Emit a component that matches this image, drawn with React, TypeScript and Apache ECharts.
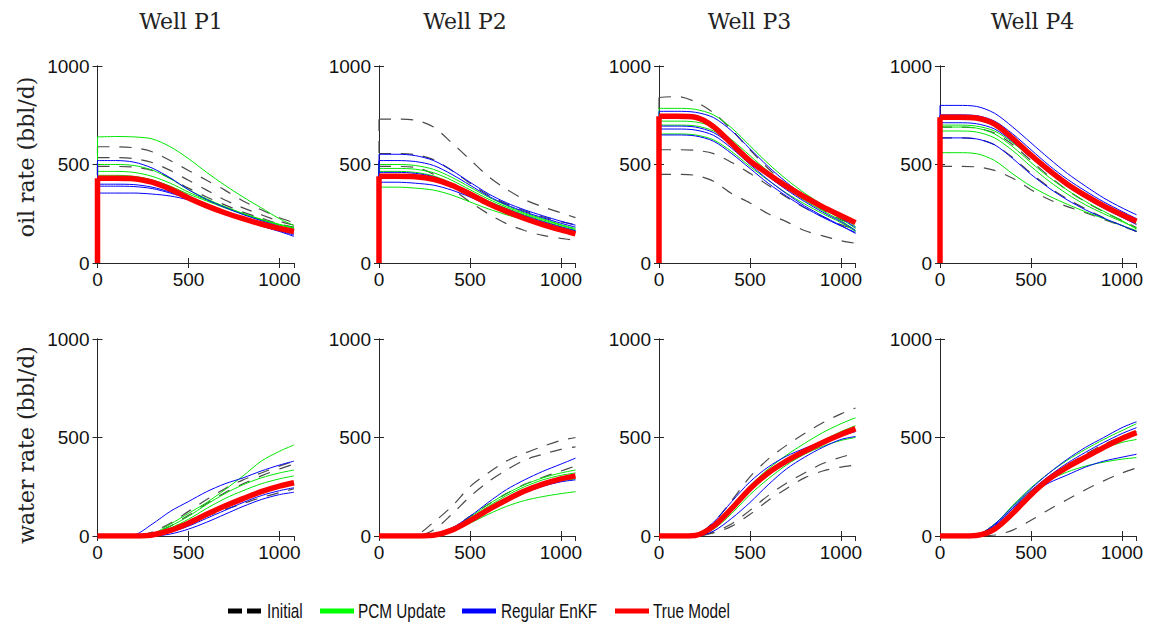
import React, { useEffect, useRef } from "react";
import * as echarts from "echarts";

// ---------- data ----------
const TIME = [0, 100, 200, 300, 400, 500, 600, 700, 800, 900, 1000, 1080];
const WELLS = ["Well P1", "Well P2", "Well P3", "Well P4"];
const ROW_LABELS = ["oil rate (bbl/d)", "water rate (bbl/d)"];
const X_TICKS = [0, 500, 1000];
const Y_TICKS = [0, 500, 1000];
const LEGEND_NAMES = ["Initial", "PCM Update", "Regular EnKF", "True Model"];

// Oil rates (production starts from zero at t = 0)
const P1_OIL_INITIAL = [
  [590, 590, 585, 565, 520, 470, 420, 370, 315, 270, 230, 205],
  [535, 535, 530, 510, 470, 420, 370, 320, 280, 245, 212, 192],
  [490, 490, 487, 470, 430, 380, 335, 295, 258, 228, 198, 182],
];
const P1_OIL_PCM = [
  [640, 642, 640, 630, 590, 530, 460, 395, 335, 280, 225, 190],
  [500, 500, 495, 472, 428, 372, 326, 286, 252, 222, 196, 180],
  [465, 465, 460, 440, 405, 360, 320, 285, 250, 220, 195, 178],
  [445, 445, 440, 422, 390, 350, 315, 280, 248, 218, 192, 175],
];
const P1_OIL_ENKF = [
  [520, 520, 512, 482, 432, 372, 322, 282, 246, 215, 186, 165],
  [400, 400, 398, 385, 360, 330, 292, 256, 225, 196, 170, 150],
  [390, 390, 388, 378, 355, 325, 288, 252, 220, 190, 163, 142],
  [355, 355, 355, 350, 340, 320, 285, 250, 218, 188, 160, 135],
];
const P1_OIL_TRUE = [430, 430, 428, 410, 375, 330, 290, 255, 225, 198, 175, 160];

const P2_OIL_INITIAL = [
  [730, 730, 725, 690, 610, 525, 440, 375, 322, 285, 255, 230],
  [555, 555, 550, 525, 470, 405, 345, 300, 265, 235, 210, 195],
  [490, 490, 485, 450, 380, 310, 250, 200, 165, 140, 125, 115],
];
const P2_OIL_PCM = [
  [500, 500, 495, 475, 435, 385, 335, 292, 255, 225, 195, 175],
  [480, 480, 476, 458, 420, 372, 325, 285, 250, 220, 192, 170],
  [465, 465, 460, 442, 405, 360, 315, 278, 244, 214, 186, 165],
  [385, 385, 380, 370, 345, 310, 275, 245, 220, 195, 175, 160],
];
const P2_OIL_ENKF = [
  [552, 552, 545, 520, 470, 410, 352, 306, 270, 240, 212, 192],
  [520, 520, 515, 495, 450, 395, 340, 296, 260, 230, 202, 182],
  [460, 460, 455, 438, 402, 358, 312, 275, 240, 210, 183, 164],
  [410, 410, 405, 395, 370, 335, 295, 260, 228, 200, 175, 160],
];
const P2_OIL_TRUE = [440, 440, 438, 425, 395, 350, 302, 262, 226, 195, 168, 148];

const P3_OIL_INITIAL = [
  [840, 845, 818, 762, 675, 575, 480, 400, 330, 270, 220, 195],
  [575, 575, 572, 555, 510, 455, 395, 335, 280, 235, 195, 170],
  [450, 450, 445, 415, 352, 305, 250, 210, 165, 138, 113, 100],
];
const P3_OIL_PCM = [
  [785, 785, 780, 752, 685, 595, 505, 425, 355, 295, 240, 185],
  [720, 720, 716, 690, 625, 545, 465, 395, 330, 275, 225, 175],
  [700, 700, 696, 670, 605, 525, 450, 380, 318, 265, 215, 165],
  [655, 655, 650, 625, 565, 490, 420, 355, 300, 250, 205, 160],
];
const P3_OIL_ENKF = [
  [770, 770, 765, 738, 670, 580, 490, 410, 340, 280, 228, 180],
  [695, 695, 690, 662, 598, 518, 440, 372, 312, 258, 210, 165],
  [680, 680, 675, 648, 582, 500, 422, 352, 290, 238, 190, 150],
  [650, 650, 645, 618, 555, 480, 405, 340, 282, 232, 188, 155],
];
const P3_OIL_TRUE = [745, 745, 740, 692, 605, 518, 452, 390, 335, 285, 240, 205];

const P4_OIL_INITIAL = [
  [690, 690, 685, 660, 600, 520, 440, 370, 310, 260, 215, 180],
  [635, 635, 630, 600, 535, 455, 385, 325, 275, 230, 190, 160],
  [490, 490, 488, 470, 430, 372, 322, 286, 255, 222, 188, 160],
];
const P4_OIL_PCM = [
  [700, 700, 695, 670, 610, 535, 460, 395, 335, 285, 240, 200],
  [690, 690, 685, 655, 590, 510, 435, 370, 312, 262, 215, 172],
  [670, 670, 665, 635, 570, 490, 415, 350, 295, 250, 210, 178],
  [560, 560, 555, 520, 452, 390, 340, 298, 260, 225, 190, 165],
];
const P4_OIL_ENKF = [
  [800, 800, 795, 760, 690, 610, 530, 455, 390, 330, 280, 245],
  [752, 752, 748, 720, 655, 575, 495, 425, 365, 310, 262, 225],
  [712, 712, 707, 680, 615, 535, 458, 390, 330, 278, 232, 195],
  [635, 635, 630, 600, 530, 450, 380, 320, 270, 228, 190, 160],
];
const P4_OIL_TRUE = [740, 740, 736, 705, 632, 548, 470, 400, 342, 290, 245, 212];

// Water rates
const P1_WATER_INITIAL = [
  [0, 0, 0, 20, 65, 125, 185, 240, 285, 320, 355, 380],
  [0, 0, 0, 10, 50, 105, 165, 220, 265, 305, 340, 365],
  [0, 0, 0, 5, 30, 65, 100, 135, 165, 195, 220, 240],
];
const P1_WATER_PCM = [
  [0, 0, 0, 10, 60, 115, 170, 235, 305, 380, 430, 462],
  [0, 0, 0, 10, 50, 100, 160, 215, 260, 295, 320, 335],
  [0, 0, 0, 5, 40, 85, 140, 190, 230, 265, 290, 305],
];
const P1_WATER_ENKF = [
  [0, 0, 5, 60, 125, 175, 225, 265, 295, 330, 360, 380],
  [0, 0, 0, 3, 20, 50, 90, 130, 170, 205, 230, 245],
  [0, 0, 0, 0, 10, 35, 70, 110, 150, 185, 210, 222],
];
const P1_WATER_TRUE = [0, 0, 0, 5, 28, 65, 110, 152, 190, 225, 253, 270];

const P2_WATER_INITIAL = [
  [0, 0, 5, 70, 150, 250, 320, 380, 420, 455, 485, 500],
  [0, 0, 0, 30, 110, 200, 275, 335, 385, 415, 440, 452],
  [0, 0, 0, 5, 40, 100, 160, 215, 262, 298, 330, 355],
];
const P2_WATER_PCM = [
  [0, 0, 0, 5, 38, 95, 160, 215, 260, 295, 320, 335],
  [0, 0, 0, 5, 35, 90, 150, 205, 250, 285, 308, 320],
  [0, 0, 0, 3, 30, 80, 135, 185, 228, 260, 280, 290],
  [0, 0, 0, 2, 25, 65, 110, 150, 180, 200, 215, 225],
];
const P2_WATER_ENKF = [
  [0, 0, 0, 5, 40, 100, 170, 235, 285, 328, 365, 395],
  [0, 0, 0, 2, 25, 70, 125, 175, 218, 252, 275, 285],
];
const P2_WATER_TRUE = [0, 0, 0, 4, 30, 78, 133, 183, 228, 263, 290, 305];

const P3_WATER_INITIAL = [
  [0, 0, 5, 70, 180, 300, 390, 460, 520, 575, 620, 650],
  [0, 0, 0, 20, 62, 130, 205, 268, 320, 368, 400, 420],
  [0, 0, 0, 15, 50, 110, 180, 240, 295, 330, 350, 360],
];
const P3_WATER_PCM = [
  [0, 0, 3, 55, 150, 255, 340, 410, 470, 525, 570, 600],
  [0, 0, 2, 45, 135, 235, 315, 380, 435, 485, 530, 560],
  [0, 0, 0, 35, 115, 210, 290, 360, 415, 455, 485, 500],
];
const P3_WATER_ENKF = [
  [0, 0, 5, 70, 175, 275, 350, 405, 445, 480, 510, 530],
  [0, 0, 0, 25, 90, 170, 260, 340, 400, 450, 490, 505],
];
const P3_WATER_TRUE = [0, 0, 3, 50, 140, 240, 320, 380, 430, 475, 515, 545];

const P4_WATER_INITIAL = [
  [0, 0, 0, 5, 30, 80, 135, 185, 235, 280, 320, 345],
  [0, 0, 3, 40, 130, 220, 295, 360, 415, 465, 505, 530],
];
const P4_WATER_PCM = [
  [0, 0, 5, 60, 155, 245, 320, 385, 440, 490, 535, 570],
  [0, 0, 3, 45, 130, 220, 295, 355, 405, 445, 475, 490],
  [0, 0, 5, 60, 150, 230, 285, 325, 355, 375, 390, 398],
];
const P4_WATER_ENKF = [
  [0, 0, 5, 60, 150, 240, 320, 390, 450, 500, 550, 580],
  [0, 0, 4, 50, 140, 230, 305, 370, 425, 475, 520, 550],
  [0, 0, 5, 55, 140, 215, 270, 310, 350, 380, 400, 415],
];
const P4_WATER_TRUE = [0, 0, 3, 35, 115, 210, 290, 350, 400, 450, 495, 525];

const PANELS = [
  { init: P1_OIL_INITIAL, pcm: P1_OIL_PCM, enkf: P1_OIL_ENKF, truth: P1_OIL_TRUE },
  { init: P2_OIL_INITIAL, pcm: P2_OIL_PCM, enkf: P2_OIL_ENKF, truth: P2_OIL_TRUE },
  { init: P3_OIL_INITIAL, pcm: P3_OIL_PCM, enkf: P3_OIL_ENKF, truth: P3_OIL_TRUE },
  { init: P4_OIL_INITIAL, pcm: P4_OIL_PCM, enkf: P4_OIL_ENKF, truth: P4_OIL_TRUE },
  { init: P1_WATER_INITIAL, pcm: P1_WATER_PCM, enkf: P1_WATER_ENKF, truth: P1_WATER_TRUE },
  { init: P2_WATER_INITIAL, pcm: P2_WATER_PCM, enkf: P2_WATER_ENKF, truth: P2_WATER_TRUE },
  { init: P3_WATER_INITIAL, pcm: P3_WATER_PCM, enkf: P3_WATER_ENKF, truth: P3_WATER_TRUE },
  { init: P4_WATER_INITIAL, pcm: P4_WATER_PCM, enkf: P4_WATER_ENKF, truth: P4_WATER_TRUE },
];

// ---------- layout / style ----------
const COL_LEFT = [97.5, 379, 659, 940];
const TITLE_X = [181, 465, 749.5, 1032.5];
const ROW_TOP = [66, 339];
const PANEL_W = 196.5;
const PANEL_H = 197;
const AXIS_COLOR = "#262626";
const SERIF = "'DejaVu Serif', 'Liberation Serif', serif";
const SANS = "'Liberation Sans', Arial, sans-serif";

const STYLES = [
  { color: "#4a4a4a", width: 1.2, type: [12, 10] as any, z: 2 },
  { color: "#00e600", width: 1, type: "solid" as any, z: 3 },
  { color: "#0000ff", width: 1, type: "solid" as any, z: 4 },
  { color: "#ff0000", width: 5.5, type: "solid" as any, z: 5 },
];
const LEGEND_COLORS = ["#000", "#00ff00", "#0000ff", "#ff0000"];
const LEGEND_ICON_X = [228, 320, 462, 615];
const LEGEND_TEXT_X = [267, 358, 501, 653];
const LEGEND_Y = 611;

const toData = (vals: number[]) => TIME.map((t, i) => [t, vals[i]]);

function buildOption() {
  const grid: any[] = [];
  const xAxis: any[] = [];
  const yAxis: any[] = [];
  const series: any[] = [];

  const tickLabel = { color: "#111", fontFamily: SANS, fontSize: 19 };
  const axisLine = { show: true, lineStyle: { color: AXIS_COLOR, width: 1 } };
  const axisTick = { show: true, inside: true, length: 5, lineStyle: { color: AXIS_COLOR } };

  PANELS.forEach((p, k) => {
    const row = Math.floor(k / 4);
    const col = k % 4;
    grid.push({ left: COL_LEFT[col], top: ROW_TOP[row], width: PANEL_W, height: PANEL_H });
    const xCommon = { gridIndex: k, type: "value", min: 0, max: 1080, interval: 500, splitLine: { show: false }, axisLine, axisTick };
    xAxis.push({
      ...xCommon,
      position: "bottom",
      axisLabel: {
        ...tickLabel,
        margin: 7,
        showMaxLabel: false,
        formatter: (v: number) => (X_TICKS.includes(v) ? String(v) : ""),
      },
    });
    xAxis.push({ ...xCommon, position: "top", axisLabel: { show: false } });
    const yCommon = { gridIndex: k, type: "value", min: 0, max: 1000, interval: 500, splitLine: { show: false }, axisLine, axisTick };
    yAxis.push({
      ...yCommon,
      position: "left",
      axisLabel: { ...tickLabel, margin: 8, formatter: (v: number) => (Y_TICKS.includes(v) ? String(v) : "") },
    });
    yAxis.push({ ...yCommon, position: "right", axisLabel: { show: false } });

    const base = {
      type: "line",
      xAxisIndex: 2 * k,
      yAxisIndex: 2 * k,
      symbol: "none",
      showSymbol: false,
      silent: true,
    };
    const groups = [p.init, p.pcm, p.enkf, [p.truth]];
    groups.forEach((curves, g) => {
      const st = STYLES[g];
      curves.forEach((v: number[]) => {
        const lineStyle = { color: st.color, width: st.width, type: st.type };
        series.push({ ...base, name: LEGEND_NAMES[g], color: st.color, z: st.z, smooth: 0.3, data: toData(v), lineStyle });
        if (v[0] > 0) {
          // oil production switches on at t = 0: vertical rise from zero
          series.push({ ...base, name: LEGEND_NAMES[g], color: st.color, z: st.z, smooth: false,
            data: [[TIME[0], 0], [TIME[0], v[0]]], lineStyle });
        }
      });
    });
  });

  const graphic: any[] = [];
  WELLS.forEach((w, c) => {
    graphic.push({
      type: "text",
      x: TITLE_X[c],
      y: 21,
      style: { text: w, fontFamily: SERIF, fontSize: 22, fill: "#222", align: "center", verticalAlign: "middle" },
    });
  });
  ROW_LABELS.forEach((t, r) => {
    graphic.push({
      type: "text",
      x: 26,
      y: r === 0 ? 157 : 445,
      rotation: Math.PI / 2,
      style: { text: t, fontFamily: SERIF, fontSize: 22, fill: "#222", align: "center", verticalAlign: "middle" },
    });
  });
  // legend
  LEGEND_NAMES.forEach((n, i) => {
    const x0 = LEGEND_ICON_X[i];
    if (i === 0) {
      graphic.push({ type: "rect", shape: { x: x0, y: LEGEND_Y - 2.5, width: 14, height: 5 }, style: { fill: LEGEND_COLORS[i] } });
      graphic.push({ type: "rect", shape: { x: x0 + 19, y: LEGEND_Y - 2.5, width: 14, height: 5 }, style: { fill: LEGEND_COLORS[i] } });
    } else {
      graphic.push({ type: "rect", shape: { x: x0, y: LEGEND_Y - 2.5, width: 34, height: 5 }, style: { fill: LEGEND_COLORS[i] } });
    }
    graphic.push({
      type: "text",
      x: LEGEND_TEXT_X[i],
      y: LEGEND_Y,
      scaleX: 0.73,
      style: { text: n, fontFamily: SANS, fontSize: 21, fill: "#111", align: "left", verticalAlign: "middle" },
    });
  });

  return {
    animation: false,
    backgroundColor: "#fff",
    grid,
    xAxis,
    yAxis,
    series,
    graphic,
  };
}

export default function App() {
  const ref = useRef<HTMLDivElement>(null);
  useEffect(() => {
    if (!ref.current) return;
    const chart = echarts.init(ref.current, undefined, { renderer: "svg" });
    chart.setOption(buildOption() as any);
    return () => chart.dispose();
  }, []);
  return (
    <div
      ref={ref}
      style={{ position: "fixed", left: 0, top: 0, width: 1150, height: 625, background: "#fff" }}
    />
  );
}
